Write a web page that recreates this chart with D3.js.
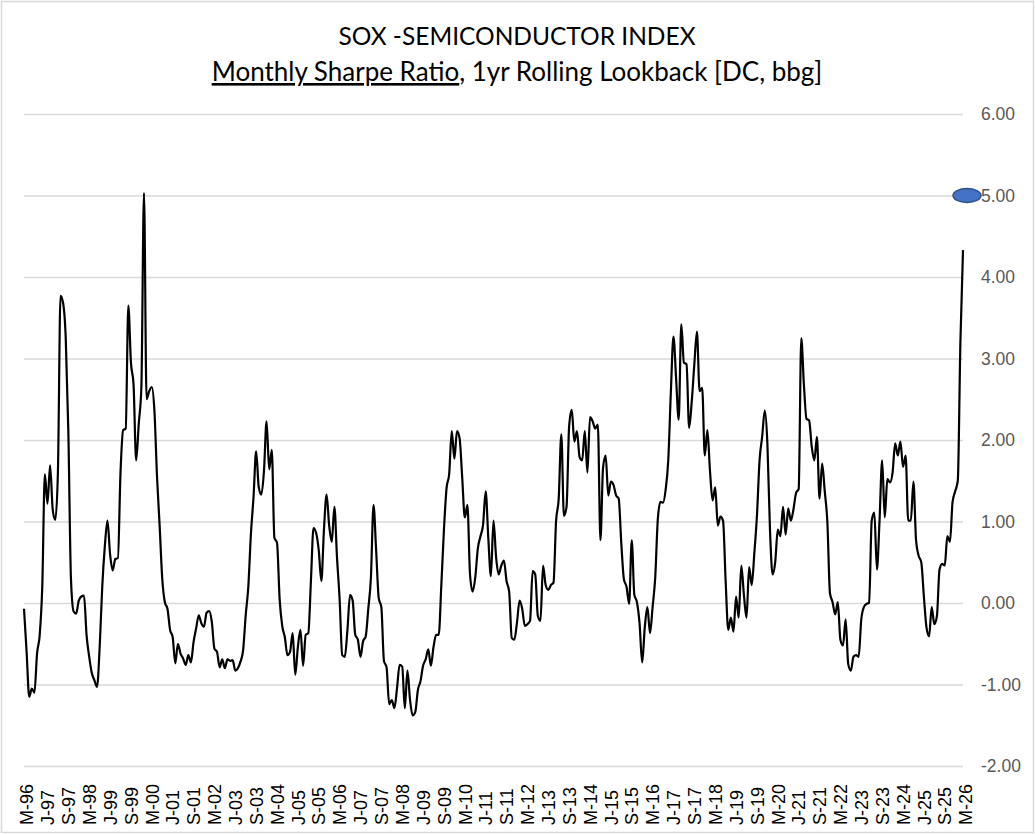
<!DOCTYPE html>
<html>
<head>
<meta charset="utf-8">
<script src="https://cdn.jsdelivr.net/npm/d3@7"></script>
<style>
  body { margin: 0; background: #fff; }
  svg { display: block; font-family: Lato, "Open Sans", sans-serif; }
</style>
</head>
<body>
<div id="chart"></div>
<script>
// first month of the series and label spacing (months)
const startMonth = new Date(1996, 4, 1);
const labelEvery = 8;
const markerValue = 5.0;

const title = "SOX -SEMICONDUCTOR INDEX";
const subtitleUnderlined = "Monthly Sharpe Ratio";
const subtitleRest = ", 1yr Rolling Lookback [DC, bbg]";

const yTicks = [-2, -1, 0, 1, 2, 3, 4, 5, 6];

// monthly 1yr rolling sharpe, May-96 .. May-26
const sharpe = [
  -0.07, -0.60, -1.15, -1.05, -1.10, -0.62, -0.40, 0.20, 1.58, 1.22, 1.69, 1.15,
  1.02, 1.60, 3.77, 3.68, 3.25, 2.10, 0.30, -0.10, -0.13, 0.03, 0.08, 0.09,
  -0.40, -0.66, -0.86, -0.95, -1.03, -0.55, 0.20, 0.70, 1.01, 0.60, 0.40, 0.54,
  0.55, 1.60, 2.12, 2.14, 3.65, 2.95, 2.68, 1.75, 2.20, 2.65, 5.03, 2.50,
  2.60, 2.65, 2.36, 1.55, 0.95, 0.30, 0.01, -0.07, -0.33, -0.42, -0.74, -0.50,
  -0.62, -0.68, -0.76, -0.64, -0.73, -0.48, -0.31, -0.15, -0.25, -0.29, -0.12, -0.10,
  -0.23, -0.56, -0.60, -0.79, -0.69, -0.80, -0.69, -0.71, -0.70, -0.83, -0.80, -0.72,
  -0.58, -0.15, 0.20, 0.85, 1.30, 1.86, 1.42, 1.33, 1.62, 2.23, 1.64, 1.88,
  0.80, 0.74, 0.05, -0.28, -0.42, -0.64, -0.60, -0.37, -0.88, -0.54, -0.33, -0.77,
  -0.39, -0.37, 0.27, 0.92, 0.86, 0.65, 0.27, 0.90, 1.33, 0.95, 0.75, 1.18,
  0.56, 0.05, -0.64, -0.66, -0.33, 0.10, 0.03, -0.39, -0.45, -0.66, -0.47, -0.41,
  -0.07, 0.31, 1.20, 0.65, 0.06, -0.05, -0.71, -0.79, -1.24, -1.19, -1.29, -1.05,
  -0.76, -0.78, -1.29, -0.83, -1.19, -1.38, -1.34, -1.07, -0.96, -0.77, -0.69, -0.57,
  -0.77, -0.54, -0.39, -0.39, 0.22, 0.90, 1.41, 1.58, 2.11, 1.77, 2.11, 2.02,
  1.54, 1.05, 1.20, 0.35, 0.14, 0.31, 0.67, 0.82, 0.96, 1.37, 0.80, 0.33,
  1.01, 0.56, 0.35, 0.46, 0.52, 0.27, 0.14, -0.43, -0.45, -0.24, 0.03, -0.07,
  -0.28, -0.26, -0.22, 0.39, 0.35, -0.16, -0.22, 0.46, 0.22, 0.16, 0.22, 0.25,
  1.01, 1.28, 2.07, 1.07, 1.18, 2.17, 2.37, 1.98, 2.11, 1.79, 1.75, 2.11,
  1.60, 2.28, 2.23, 2.14, 2.19, 0.77, 1.66, 1.81, 1.32, 1.49, 1.45, 1.32,
  1.28, 0.73, 0.29, 0.20, -0.01, 0.77, 0.10, 0.01, -0.25, -0.73, -0.30, -0.05,
  -0.37, -0.05, 0.31, 1.03, 1.24, 1.23, 1.39, 1.75, 2.59, 3.27, 2.76, 2.25,
  3.42, 2.95, 2.93, 2.15, 2.47, 2.93, 3.33, 2.60, 2.64, 1.81, 2.12, 1.62,
  1.26, 1.42, 0.95, 1.06, 1.01, 0.27, -0.33, -0.18, -0.35, 0.08, -0.18, 0.46,
  0.10, -0.18, 0.44, 0.22, 0.61, 1.07, 1.75, 2.04, 2.36, 1.96, 0.90, 0.35,
  0.50, 0.90, 0.82, 1.18, 0.84, 1.16, 1.01, 1.15, 1.35, 1.40, 3.25, 2.68,
  2.26, 2.24, 1.92, 1.75, 2.04, 1.28, 1.71, 1.37, 0.99, 0.12, 0.01, -0.14,
  0.01, -0.45, -0.52, -0.20, -0.75, -0.83, -0.66, -0.64, -0.66, -0.20, -0.05, -0.01,
  0.00, 1.01, 1.11, 0.41, 1.01, 1.75, 1.05, 1.52, 1.48, 1.60, 1.96, 1.81,
  1.98, 1.67, 1.81, 1.01, 1.01, 1.49, 0.77, 0.58, 0.50, 0.08, -0.30, -0.41,
  -0.05, -0.26, -0.16, 0.41, 0.48, 0.46, 0.82, 0.75, 1.24, 1.37, 1.50, 3.20,
  4.33
];

const width = 1035, height = 834;
const plot = { left: 24, right: 963, top: 114, bottom: 766 };

const months = sharpe.map((v, i) => d3.timeMonth.offset(startMonth, i));
const data = months.map((m, i) => ({ date: m, value: sharpe[i] }));

const svg = d3.select("#chart").append("svg")
  .attr("width", width)
  .attr("height", height);

// chart area border
svg.append("rect")
  .attr("x", 1.5).attr("y", 1.5)
  .attr("width", width - 3).attr("height", height - 3)
  .attr("fill", "#fff")
  .attr("stroke", "#d9d9d9")
  .attr("stroke-width", 1.5);

const x = d3.scalePoint()
  .domain(months)
  .range([plot.left, plot.right]);

const y = d3.scaleLinear()
  .domain([d3.min(yTicks), d3.max(yTicks)])
  .range([plot.bottom, plot.top]);

// gridlines + right axis labels
const yAxis = svg.append("g")
  .attr("transform", "translate(" + plot.right + ",0)")
  .call(d3.axisRight(y)
    .tickValues(yTicks)
    .tickFormat(d => d.toFixed(2))
    .tickSizeInner(-(plot.right - plot.left))
    .tickSizeOuter(0)
    .tickPadding(18));
yAxis.select(".domain").remove();
yAxis.selectAll("line")
  .attr("stroke", "#d9d9d9")
  .attr("stroke-width", 1.5);
yAxis.selectAll("text")
  .attr("fill", "#595959")
  .style("font-size", "17.5px");

// bottom axis, rotated month labels
const fmtYear = d3.timeFormat("%y");
const fmtMonth = d3.timeFormat("%b");
const tickMonths = months.filter((m, i) => i % labelEvery === 0);

const xAxis = svg.append("g")
  .attr("transform", "translate(0," + plot.bottom + ")")
  .call(d3.axisBottom(x)
    .tickValues(tickMonths)
    .tickFormat(d => fmtMonth(d)[0] + "-" + fmtYear(d))
    .tickSize(0));
xAxis.select(".domain").remove();
xAxis.selectAll("text")
  .attr("transform", "rotate(-90)")
  .attr("text-anchor", "start")
  .attr("x", -59)
  .attr("y", 2.5)
  .attr("dy", "0.35em")
  .attr("fill", "#000")
  .style("font-size", "18px");

// the series
const line = d3.line()
  .x(d => x(d.date))
  .y(d => y(d.value))
  .curve(d3.curveMonotoneX);

svg.append("path")
  .datum(data)
  .attr("d", line)
  .attr("fill", "none")
  .attr("stroke", "#000")
  .attr("stroke-width", 2.2)
  .attr("stroke-linejoin", "round");

// blue marker at 5.00
svg.append("ellipse")
  .attr("cx", x(months[months.length - 1]) + 4)
  .attr("cy", y(markerValue))
  .attr("rx", 14)
  .attr("ry", 7)
  .attr("fill", "#4472c4")
  .attr("stroke", "#2f528f")
  .attr("stroke-width", 1.5);

// titles
svg.append("text")
  .attr("x", 517)
  .attr("y", 45)
  .attr("text-anchor", "middle")
  .style("font-size", "24.5px")
  .text(title);

const sub = svg.append("text")
  .attr("x", 517)
  .attr("y", 81)
  .attr("text-anchor", "middle")
  .style("font-size", "26px");
sub.append("tspan")
  .style("text-decoration", "underline")
  .text(subtitleUnderlined);
sub.append("tspan")
  .text(subtitleRest);
</script>
</body>
</html>
